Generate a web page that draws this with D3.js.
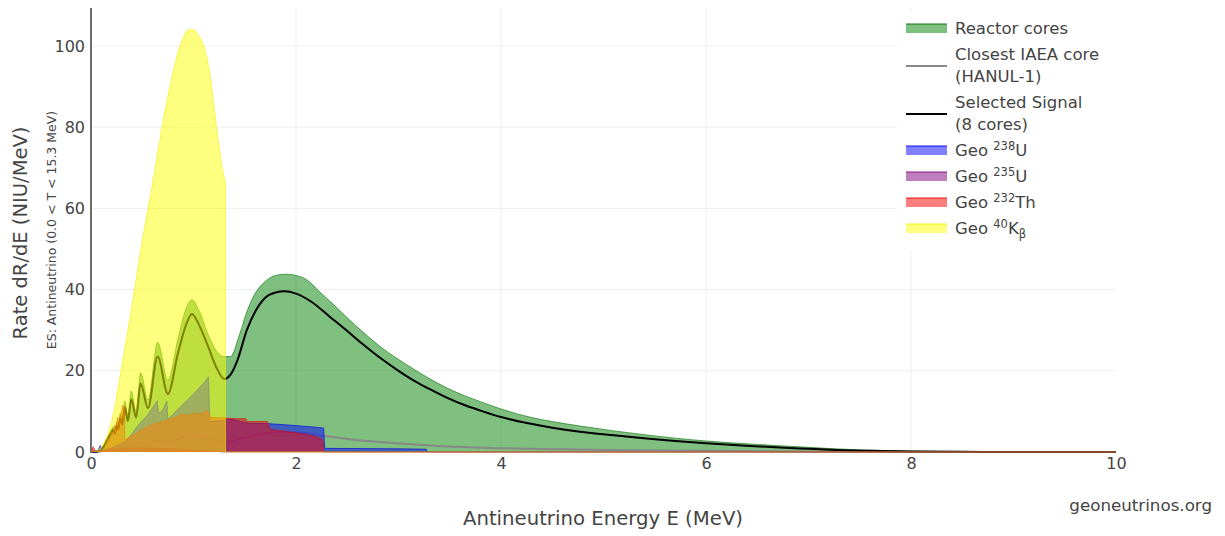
<!DOCTYPE html>
<html>
<head>
<meta charset="utf-8">
<script src="https://cdn.jsdelivr.net/npm/d3@7"></script>
<style>
  body { margin: 0; background: #fff; }
  svg { font-family: "DejaVu Sans", Verdana, sans-serif; }
</style>
</head>
<body>
<div id="chart"></div>
<script>
// energies in MeV, rates in NIU/MeV
var reactorE = [0, 0.08, 0.12, 0.16, 0.2, 0.215, 0.235, 0.25, 0.265, 0.285, 0.305, 0.33, 0.36, 0.393, 0.44, 0.484, 0.556, 0.65, 0.75, 0.85, 0.93, 0.985, 1.05, 1.15, 1.22, 1.3, 1.36, 1.45, 1.52, 1.6, 1.7, 1.8, 1.9, 2.0, 2.1, 2.23, 2.35, 2.49, 2.65, 2.82, 3.0, 3.15, 3.3, 3.47, 3.65, 3.8, 4.0, 4.28, 4.5, 4.77, 5.1, 5.42, 5.7, 6.0, 6.35, 6.72, 7.0, 7.21, 7.6, 8.0, 8.5, 9.0, 10];
var reactorRate = [0, 0.3, 1.5, 3.5, 5.5, 6.2, 5.4, 7.5, 6.5, 9.5, 8, 12.5, 9, 15, 10, 19.5, 12.8, 27, 17.7, 28, 35.5, 37.5, 35, 28.5, 25, 23.5, 23.5, 29, 34.5, 39, 42, 43.5, 43.8, 43.5, 42.5, 39.5, 36.7, 33.3, 29.6, 26, 22.8, 20.4, 18.1, 15.8, 13.8, 12.4, 10.6, 8.6, 7.5, 6.4, 5.2, 4.2, 3.4, 2.7, 2.1, 1.55, 1.15, 0.85, 0.45, 0.2, 0.07, 0.02, 0];

var closestE = [0, 0.2, 0.3, 0.4, 0.484, 0.556, 0.65, 0.75, 0.85, 0.985, 1.15, 1.3, 1.5, 1.7, 1.9, 2.1, 2.27, 2.5, 2.84, 3.2, 3.45, 4.0, 4.5, 5.0, 6.0, 7.0, 8.0, 9.0, 10];
var closestRate = [0, 0.5, 0.9, 1.5, 2.1, 1.5, 2.8, 2.0, 3.2, 4.2, 3.3, 2.4, 3.6, 4.6, 4.9, 4.6, 4.0, 3.2, 2.4, 1.8, 1.4, 0.95, 0.7, 0.5, 0.28, 0.12, 0.04, 0, 0];

var selectedE = [0, 0.08, 0.12, 0.16, 0.2, 0.215, 0.235, 0.25, 0.265, 0.285, 0.305, 0.33, 0.36, 0.393, 0.44, 0.484, 0.556, 0.65, 0.75, 0.85, 0.93, 0.985, 1.05, 1.15, 1.22, 1.3, 1.36, 1.43, 1.52, 1.6, 1.7, 1.8, 1.89, 2.0, 2.15, 2.33, 2.5, 2.65, 2.82, 3.0, 3.15, 3.31, 3.47, 3.65, 3.8, 4.0, 4.28, 4.5, 4.77, 5.1, 5.42, 5.7, 6.0, 6.35, 6.72, 7.0, 7.21, 7.6, 8.0, 8.5, 9.0, 10];
var selectedRate = [0, 0.2, 1.2, 3, 4.8, 5.4, 4.5, 6.5, 5.6, 8.3, 6.8, 11, 7.6, 13, 8.5, 16.9, 10.8, 23.5, 14.3, 24.5, 31.5, 34, 31.5, 25.5, 21, 18, 19, 22.7, 30, 34.5, 38, 39.3, 39.6, 39, 37, 33.3, 29.8, 26.6, 23.2, 20, 17.6, 15.4, 13.4, 11.5, 10.2, 8.6, 7.0, 6.0, 5.0, 4.1, 3.3, 2.7, 2.15, 1.6, 1.1, 0.78, 0.55, 0.3, 0.12, 0.04, 0.01, 0];

var u238E = [0, 0.06, 0.09, 0.11, 0.2, 0.33, 0.4, 0.46, 0.55, 0.64, 0.645, 0.66, 0.7, 0.74, 0.75, 0.8, 0.9, 1.0, 1.1, 1.146, 1.16, 1.3, 1.31, 1.4, 1.45, 1.53, 1.72, 1.9, 2.05, 2.2, 2.27, 2.28, 3.0, 3.27, 3.28, 10];
var u238Rate = [0, 0, 1.6, 0.3, 1, 2.5, 4.5, 6.6, 9, 12.4, 12.6, 9.5, 10.3, 12.5, 8, 9.3, 11.8, 14.3, 17, 18.5, 7.5, 7.8, 8, 8, 7.6, 7.1, 7.0, 6.7, 6.4, 6.1, 5.9, 0.9, 0.8, 0.7, 0, 0];

var u235E = [0, 0.1, 0.3, 0.5, 0.8, 1.0, 1.2, 1.3, 10];
var u235Rate = [0, 0.3, 0.8, 1.0, 0.8, 0.5, 0.2, 0, 0];

var th232E = [0, 0.02, 0.05, 0.12, 0.15, 0.17, 0.18, 0.2, 0.21, 0.23, 0.24, 0.26, 0.27, 0.31, 0.325, 0.33, 0.4, 0.5, 0.6, 0.7, 0.8, 0.9, 0.95, 1.0, 1.05, 1.14, 1.16, 1.3, 1.4, 1.51, 1.52, 1.72, 1.75, 1.8, 2.03, 2.2, 2.26, 2.27, 10];
var th232Rate = [0, 1.3, 0, 0.3, 2, 3.5, 2.5, 5, 4, 6.5, 5, 8.5, 7, 11.5, 11, 3, 4, 5.5, 6.8, 7.5, 8.3, 9.3, 9, 9.5, 9.3, 10.2, 8.5, 8.4, 8.2, 8.2, 7.5, 7.5, 5.5, 5.4, 4.6, 3.8, 3.0, 0, 0];

var k40E = [0, 0.05, 0.1, 0.15, 0.2, 0.25, 0.3, 0.35, 0.4, 0.45, 0.5, 0.55, 0.6, 0.65, 0.7, 0.75, 0.8, 0.85, 0.9, 0.95, 1.0, 1.05, 1.1, 1.15, 1.2, 1.25, 1.29, 1.311, 1.312, 10];
var k40Rate = [0, 0.2, 1.2, 3.5, 7.5, 13.5, 21, 28.5, 36, 44, 52, 59, 66, 73.5, 81, 87.5, 93.5, 98.5, 102, 104, 104, 102.5, 100, 94.5, 85, 75, 68.5, 66, 0, 0];

var xTicks = [0, 2, 4, 6, 8, 10];
var yTicks = [0, 20, 40, 60, 80, 100];

function pairs(e, r) {
    return e.map(function (d, i) { return [d, r[i]]; });
}

var width = 1225, height = 536;
var plotL = 91, plotR = 1116, plotT = 8, plotB = 452;

var x = d3.scaleLinear().domain([0, 10]).range([plotL, plotR]);
var y = d3.scaleLinear().domain([0, 109.36]).range([plotB, plotT]);

var svg = d3.select("#chart")
    .append("svg")
    .attr("width", width)
    .attr("height", height);

// grid
svg.append("g")
    .selectAll("line")
    .data(yTicks.slice(1))
    .enter()
    .append("line")
    .attr("x1", plotL).attr("x2", plotR)
    .attr("y1", function (d) { return y(d); })
    .attr("y2", function (d) { return y(d); })
    .attr("stroke", "#eeeeee").attr("stroke-width", 1);

svg.append("g")
    .selectAll("line")
    .data(xTicks.slice(1, -1))
    .enter()
    .append("line")
    .attr("x1", function (d) { return x(d); })
    .attr("x2", function (d) { return x(d); })
    .attr("y1", plotT).attr("y2", plotB)
    .attr("stroke", "#eeeeee").attr("stroke-width", 1);

// traces, in the order they stack
var traces = [
    {data: pairs(reactorE, reactorRate), fill: "rgba(0,128,0,0.5)", stroke: "rgba(0,110,0,0.6)", width: 1, smooth: true},
    {data: pairs(closestE, closestRate), fill: null, stroke: "#888888", width: 2, smooth: true},
    {data: pairs(selectedE, selectedRate), fill: null, stroke: "#000000", width: 2, smooth: true},
    {data: pairs(u238E, u238Rate), fill: "rgba(0,0,255,0.5)", stroke: "rgba(0,0,230,0.6)", width: 1, smooth: false},
    {data: pairs(u235E, u235Rate), fill: "rgba(128,0,128,0.5)", stroke: "rgba(128,0,128,0.6)", width: 1, smooth: false},
    {data: pairs(th232E, th232Rate), fill: "rgba(255,0,0,0.5)", stroke: "rgba(220,0,0,0.6)", width: 1, smooth: false},
    {data: pairs(k40E, k40Rate), fill: "rgba(255,255,0,0.5)", stroke: "rgba(240,240,0,0.6)", width: 1, smooth: true}
];

var plot = svg.append("g");

traces.forEach(function (t) {
    var curve = t.smooth ? d3.curveMonotoneX : d3.curveLinear;
    if (t.fill) {
        var area = d3.area()
            .x(function (d) { return x(d[0]); })
            .y0(y(0))
            .y1(function (d) { return y(d[1]); })
            .curve(curve);
        plot.append("path")
            .attr("d", area(t.data))
            .attr("fill", t.fill);
    }
    var line = d3.line()
        .x(function (d) { return x(d[0]); })
        .y(function (d) { return y(d[1]); })
        .curve(curve);
    plot.append("path")
        .attr("d", line(t.data))
        .attr("fill", "none")
        .attr("stroke", t.stroke)
        .attr("stroke-width", t.width)
        .attr("stroke-linejoin", "round");
});

// axes
var yAxis = svg.append("g")
    .attr("transform", "translate(" + plotL + ",0)")
    .call(d3.axisLeft(y).tickValues(yTicks).tickSize(0).tickPadding(6));
yAxis.select(".domain").remove();

var xAxis = svg.append("g")
    .attr("transform", "translate(0," + plotB + ")")
    .call(d3.axisBottom(x).tickValues(xTicks).tickSize(0).tickPadding(6));
xAxis.select(".domain").remove();

svg.selectAll(".tick text")
    .attr("font-family", "DejaVu Sans, Verdana, sans-serif")
    .style("font-size", "16px")
    .attr("fill", "#444");

svg.append("line")
    .attr("x1", plotL).attr("x2", plotL)
    .attr("y1", plotT).attr("y2", plotB + 1)
    .attr("stroke", "#6e6e6e").attr("stroke-width", 2);

// titles
svg.append("text")
    .attr("x", 603).attr("y", 525)
    .attr("text-anchor", "middle")
    .style("font-size", "19.7px")
    .attr("fill", "#444")
    .text("Antineutrino Energy E (MeV)");

svg.append("text")
    .attr("transform", "translate(27,233) rotate(-90)")
    .attr("text-anchor", "middle")
    .style("font-size", "19.5px")
    .attr("fill", "#444")
    .text("Rate dR/dE (NIU/MeV)");

svg.append("text")
    .attr("transform", "translate(56,230) rotate(-90)")
    .attr("text-anchor", "middle")
    .style("font-size", "12.5px")
    .attr("fill", "#444")
    .text("ES: Antineutrino (0.0 < T < 15.3 MeV)");

svg.append("text")
    .attr("x", 1212).attr("y", 511)
    .attr("text-anchor", "end")
    .style("font-size", "16.7px")
    .attr("fill", "#444")
    .text("geoneutrinos.org");

// legend
var legendBox = svg.append("g");
legendBox.append("rect")
    .attr("x", 897).attr("y", 10)
    .attr("width", 328).attr("height", 240)
    .attr("fill", "#fff");

var legendItems = [
    {lines: [["Reactor cores"]], kind: "fill", fill: "rgba(0,128,0,0.5)", stroke: "rgba(0,110,0,0.6)"},
    {lines: [["Closest IAEA core"], ["(HANUL-1)"]], kind: "line", stroke: "#888888"},
    {lines: [["Selected Signal"], ["(8 cores)"]], kind: "line", stroke: "#000000"},
    {lines: [["Geo ", "^238", "U"]], kind: "fill", fill: "rgba(0,0,255,0.5)", stroke: "rgba(0,0,230,0.6)"},
    {lines: [["Geo ", "^235", "U"]], kind: "fill", fill: "rgba(128,0,128,0.5)", stroke: "rgba(128,0,128,0.6)"},
    {lines: [["Geo ", "^232", "Th"]], kind: "fill", fill: "rgba(255,0,0,0.5)", stroke: "rgba(220,0,0,0.6)"},
    {lines: [["Geo ", "^40", "K", "_\u03b2"]], kind: "fill", fill: "rgba(255,255,0,0.5)", stroke: "rgba(240,240,0,0.6)"}
];

var rowY = 28, lineH = 22, gap = 26;
legendItems.forEach(function (item) {
    var n = item.lines.length;
    var mid = rowY + (n - 1) * lineH / 2;
    if (item.kind === "fill") {
        legendBox.append("rect")
            .attr("x", 906).attr("y", mid - 4)
            .attr("width", 41).attr("height", 9)
            .attr("fill", item.fill);
        legendBox.append("line")
            .attr("x1", 906).attr("x2", 947)
            .attr("y1", mid - 4).attr("y2", mid - 4)
            .attr("stroke", item.stroke).attr("stroke-width", 1.5);
    } else {
        legendBox.append("line")
            .attr("x1", 906).attr("x2", 947)
            .attr("y1", mid + 1).attr("y2", mid + 1)
            .attr("stroke", item.stroke).attr("stroke-width", 2);
    }
    item.lines.forEach(function (parts, j) {
        var t = legendBox.append("text")
            .attr("x", 955).attr("y", rowY + j * lineH + 6)
            .style("font-size", "16.5px")
            .attr("fill", "#444");
        var shift = 0;
        parts.forEach(function (p) {
            var s = t.append("tspan");
            if (p[0] === "^") {
                s.attr("dy", -6 - shift).style("font-size", "11.5px").text(p.slice(1));
                shift = -6;
            } else if (p[0] === "_") {
                s.attr("dy", 4 - shift).style("font-size", "11.5px").text(p.slice(1));
                shift = 4;
            } else {
                s.attr("dy", -shift).text(p);
                shift = 0;
            }
        });
    });
    rowY += (n - 1) * lineH + gap;
});
</script>
</body>
</html>
